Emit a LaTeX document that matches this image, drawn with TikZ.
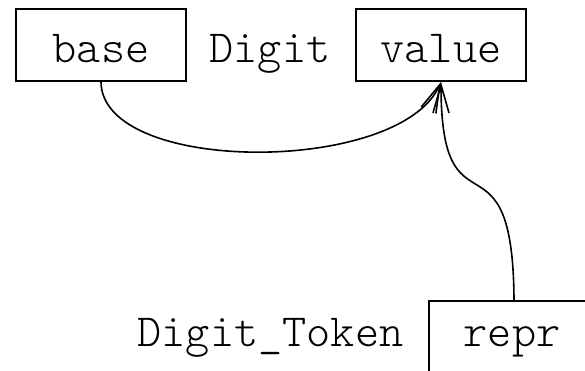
\documentclass[tikz,border=0pt]{standalone}
\usetikzlibrary{arrows.meta}
\begin{document}
\begin{tikzpicture}[x=1pt,y=-1pt,
  txt/.style={font=\ttfamily\fontseries{l}\fontsize{46}{46}\selectfont},
  field/.style={draw,line width=2pt,minimum width=170pt,minimum height=72pt,
    txt,inner sep=0pt,text height=36pt,text depth=0pt},
  lbl/.style={txt,inner sep=0pt,anchor=base},
  link/.style={line width=1.6pt,-{Straight Barb[length=28pt,width=16pt]}}]
\useasboundingbox (0,0) rectangle (585,371);
\begin{scope}
\clip (0,0) rectangle (585,371);
% record Digit
\node[field] (base) at (101,45) {base};
\node[lbl] (digit) at (270,63) {Digit};
\node[field] (value) at (441,45) {value};
% record Digit_Token
\node[field,text height=0pt,minimum height=80pt,anchor=north west] (repr) at (428,300) {};
\node[lbl] (reprtext) at (512,346) {repr};
\node[lbl] (token) at (270.5,346) {Digit\_Token};
% dependencies
\draw[link] (base.south) .. controls (102,175) and (400,175) .. (value.south);
\draw[link] (repr.north) .. controls (513,120) and (441,245) .. (value.south);
\end{scope}
\end{tikzpicture}
\end{document}
